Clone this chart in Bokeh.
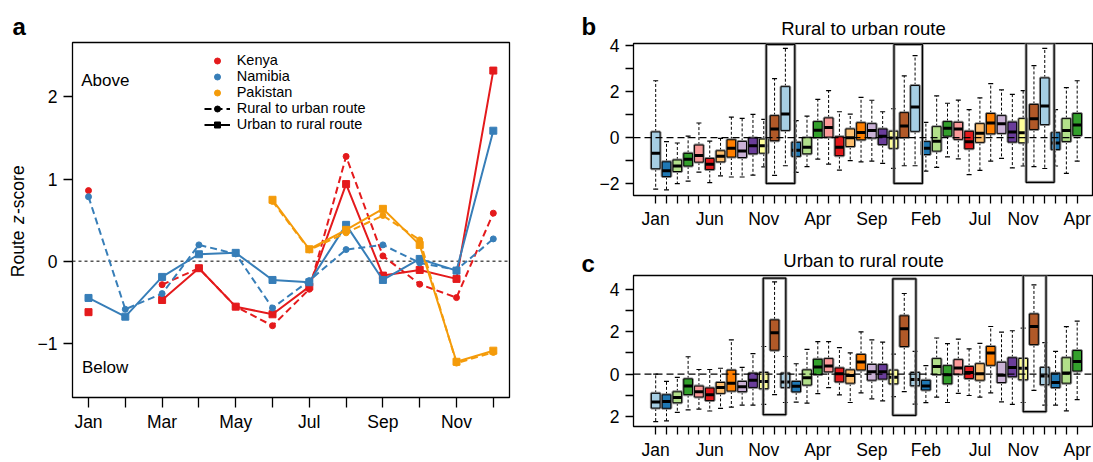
import math
import numpy as np
from bokeh.plotting import figure
from bokeh.layouts import row, column
from bokeh.models import (Range1d, FixedTicker, Label, Legend, LegendItem,
                          ColumnDataSource, Span)
from bokeh.embed import file_html
from bokeh.resources import INLINE

FONT = "Liberation Sans"
nan = float("nan")

# ---------------- Panel a data ----------------
month_num = list(range(1, 13))
month_names = ["Jan", "Feb", "Mar", "Apr", "May", "Jun",
               "Jul", "Aug", "Sep", "Oct", "Nov", "Dec"]
a_labelled = [1, 3, 5, 7, 9, 11]

kenya_rural = [0.86, nan, -0.285, -0.085, -0.553, -0.785, -0.341, 1.276, 0.065, -0.28, -0.443, 0.585]
kenya_urban = [-0.62, nan, -0.472, -0.085, -0.553, -0.646, -0.309, 0.939, -0.175, -0.106, -0.215, 2.321]
namibia_rural = [0.785, -0.585, -0.394, 0.199, 0.089, -0.569, -0.236, 0.142, 0.199, -0.02, -0.106, 0.272]
namibia_urban = [-0.447, -0.675, -0.191, 0.085, 0.102, -0.228, -0.256, 0.443, -0.228, 0.028, -0.114, 1.589]
pakistan_rural = [nan, nan, nan, nan, nan, 0.728, 0.138, 0.346, 0.557, 0.26, -1.24, -1.11]
pakistan_urban = [nan, nan, nan, nan, nan, 0.748, 0.146, 0.382, 0.638, 0.199, -1.224, -1.089]

countries = ["Kenya", "Namibia", "Pakistan"]
country_colors = ["#E41A1C", "#377EB8", "#F49B0A"]

# ---------------- Panels b, c data ----------------
box_months = [month_names[i % 12] for i in range(40)]
box_labelled = [0, 5, 10, 15, 20, 25, 30, 34, 39]
paired = ["#A6CEE3", "#1F78B4", "#B2DF8A", "#33A02C", "#FB9A99", "#E31A1C",
          "#FDBF6F", "#FF7F00", "#CAB2D6", "#6A3D9A", "#FFFF99", "#B15928"]

b_whi = [2.48, -0.17, -0.23, 0.07, 0.64, -0.15, -0.03, 0.9, 0.84, 1.02, 0.8, 2.57, 3.89,
         0.74, 0.94, 1.67, 2.05, 1.13, 1.03, 1.76, 1.63, 1.13, 1.26, 2.69, 3.57, 0.67, 1.82,
         1.5, 1.64, 1.22, 1.73, 2.35, 2.08, 1.89, 2.05, 3.14, 3.89, 1.22, 2.18, 2.48]
b_q3 = [0.25, -1.05, -0.97, -0.68, -0.32, -0.9, -0.57, -0.09, -0.16, -0.01, -0.06, 0.96, 2.22,
        -0.2, 0.0, 0.7, 0.86, 0.04, 0.38, 0.65, 0.61, 0.38, 0.28, 1.09, 2.27, -0.17, 0.48,
        0.7, 0.67, 0.28, 0.61, 1.05, 0.96, 0.68, 0.83, 1.45, 2.6, 0.22, 0.83, 1.05]
b_med = [-0.68, -1.44, -1.23, -0.94, -0.77, -1.15, -0.81, -0.46, -0.58, -0.35, -0.35, 0.38, 1.03,
         -0.55, -0.41, 0.32, 0.45, -0.41, 0.0, 0.23, 0.31, 0.06, -0.01, 0.51, 1.34, -0.46, -0.15,
         0.41, 0.38, -0.17, 0.2, 0.64, 0.61, 0.25, 0.22, 0.83, 1.38, -0.23, 0.31, 0.55]
b_q1 = [-1.35, -1.69, -1.47, -1.23, -1.06, -1.38, -1.05, -0.84, -0.86, -0.7, -0.67, -0.13, 0.32,
        -0.81, -0.7, 0.01, 0.03, -0.78, -0.38, -0.09, -0.01, -0.3, -0.46, 0.01, 0.28, -0.73, -0.58,
        0.07, -0.07, -0.48, -0.2, 0.17, 0.19, -0.19, -0.22, 0.36, 0.57, -0.51, -0.16, 0.1]
b_wlo = [-2.24, -2.27, -2.0, -1.89, -1.5, -1.95, -1.66, -1.71, -1.71, -1.63, -1.27, -1.64, -1.22,
         -1.51, -1.26, -0.93, -1.15, -1.41, -1.0, -1.05, -1.02, -1.12, -1.33, -1.22, -1.22, -1.45, -1.29,
         -0.83, -0.92, -1.61, -1.42, -1.02, -0.9, -1.31, -1.23, -1.26, -1.34, -1.23, -1.55, -1.02]
b_rect_left = [10.23, 22.05, 34.28]
b_rect_right = [12.87, 24.68, 36.87]
b_rect_bottom = [-1.99, -1.99, -1.94]
b_rect_top = [4.06, 4.06, 4.11]

c_whi = [0.0, -0.34, -0.15, 0.82, 0.22, 0.22, 0.28, 1.61, 0.32, 0.97, 1.3, 4.34, 0.83,
         0.49, 1.17, 1.53, 1.53, 1.25, 1.0, 1.99, 1.61, 1.51, 0.94, 3.79, 1.07, 0.4, 1.7,
         1.44, 1.65, 1.19, 1.45, 2.24, 1.98, 2.04, 2.16, 4.2, 1.48, 1.07, 2.23, 2.49]
c_q3 = [-0.9, -0.97, -0.83, -0.22, -0.56, -0.65, -0.39, 0.19, -0.34, 0.05, 0.08, 2.55, 0.05,
        -0.34, 0.2, 0.7, 0.73, 0.29, 0.2, 0.93, 0.46, 0.45, 0.19, 2.74, 0.08, -0.29, 0.73,
        0.4, 0.68, 0.36, 0.49, 1.3, 0.56, 0.77, 0.74, 2.83, 0.32, 0.05, 0.77, 1.11]
c_med = [-1.31, -1.28, -1.1, -0.56, -0.82, -0.96, -0.63, -0.43, -0.59, -0.29, -0.34, 1.95, -0.37,
         -0.57, -0.17, 0.34, 0.39, 0.02, -0.06, 0.57, 0.11, 0.11, -0.14, 2.13, -0.25, -0.56, 0.36,
         -0.03, 0.29, 0.08, 0.02, 0.99, -0.05, 0.32, 0.28, 2.24, -0.09, -0.39, 0.06, 0.6]
c_q1 = [-1.59, -1.6, -1.34, -0.96, -1.07, -1.24, -0.9, -0.79, -0.82, -0.62, -0.68, 1.13, -0.62,
        -0.83, -0.51, -0.02, 0.11, -0.36, -0.42, 0.2, -0.28, -0.23, -0.45, 1.3, -0.54, -0.74, -0.02,
        -0.45, 0.0, -0.2, -0.28, 0.42, -0.39, -0.12, -0.26, 1.39, -0.49, -0.63, -0.42, 0.15]
c_wlo = [-2.23, -2.19, -1.79, -1.68, -1.64, -1.73, -1.61, -1.55, -1.45, -1.45, -1.42, -0.96, -1.33,
         -1.31, -1.36, -0.91, -0.63, -0.97, -1.33, -0.88, -1.16, -1.25, -1.05, -0.82, -1.41, -1.34, -1.08,
         -1.33, -0.9, -1.0, -1.08, -0.88, -1.3, -1.42, -1.33, -0.76, -1.45, -1.45, -1.72, -1.19]
c_rect_left = [9.95, 21.94, 34.01]
c_rect_right = [12.04, 24.08, 36.12]
c_rect_bottom = [-1.90, -1.93, -1.76]
c_rect_top = [4.51, 4.48, 4.64]

PAGE_H = 462
A_TOP, A_BOTTOM = 42, 65   # borders of panel a (frame spans 42..397 px from top)


def style_common(p):
    p.xgrid.visible = False
    p.ygrid.visible = False
    p.outline_line_color = "black"
    p.outline_line_width = 1.3
    p.background_fill_color = "white"
    p.border_fill_color = "white"
    for ax in (p.xaxis[0], p.yaxis[0]):
        ax.axis_line_color = None
        ax.major_tick_line_color = "black"
        ax.major_tick_line_width = 1.3
        ax.major_tick_in = 0
        ax.minor_tick_line_color = None
        ax.major_label_text_font = FONT
        ax.major_label_text_font_size = "17.5px"
        ax.major_label_text_color = "black"


def text_strip(width, letter, letter_offset):
    # narrow figure without axes carrying free texts; its frame matches panel a's frame rows,
    # y units = pixels counted from the bottom of the page
    s = figure(width=width, height=PAGE_H, x_range=Range1d(0, width),
               y_range=Range1d(A_BOTTOM, PAGE_H - A_TOP),
               x_axis_type=None, y_axis_type=None, output_backend="svg", toolbar_location=None,
               min_border_left=0, min_border_right=0, min_border_top=A_TOP, min_border_bottom=A_BOTTOM)
    s.outline_line_color = None
    s.xgrid.visible = False
    s.ygrid.visible = False
    s.background_fill_color = "white"
    s.border_fill_color = "white"
    s.title.text = letter
    s.title.text_font = FONT
    s.title.text_font_size = "24px"
    s.title.text_font_style = "bold"
    s.title.text_color = "black"
    s.title.align = "left"
    s.title.offset = letter_offset
    s.title.standoff = 5
    return s


def put_text(p, x, y, text, size, style="normal", angle=0.0, baseline="alphabetic"):
    p.add_layout(Label(x=x, y=y, text=text, angle=angle, text_font=FONT, text_font_size=size,
                       text_color="black", text_font_style=style, text_align="left",
                       text_baseline=baseline))


# ---------------- left text strip: panel letter "a" + y-axis title ----------------
strip_a = text_strip(30, "a", 12)
for txt, yy, style in [("Route", 185.3, "normal"), ("z", 238.5, "italic"), ("-score", 248.5, "normal")]:
    put_text(strip_a, 17.5, yy, txt, "17.5px", style, math.pi / 2, "middle")

# ---------------- Panel a ----------------
pa = figure(width=550, height=PAGE_H, x_range=Range1d(0.565, 12.44), y_range=Range1d(-1.659, 2.663),
            output_backend="svg", toolbar_location=None,
            min_border_left=42, min_border_right=71, min_border_top=A_TOP, min_border_bottom=A_BOTTOM)
style_common(pa)
pa.xaxis.ticker = FixedTicker(ticks=month_num, minor_ticks=[])
pa.xaxis.major_label_overrides = {m: (month_names[m - 1] if m in a_labelled else "") for m in month_num}
pa.xaxis.major_tick_out = 10
pa.xaxis.major_label_standoff = 4
pa.yaxis.ticker = FixedTicker(ticks=[-1, 0, 1, 2], minor_ticks=[])
pa.yaxis.major_label_overrides = {-1: "\u22121", 0: "0", 1: "1", 2: "2"}
pa.yaxis.major_tick_out = 9
pa.yaxis.major_label_standoff = 6

pa.add_layout(Span(location=0, dimension="width", line_color="#555555", line_width=1.5,
                   line_dash="3 3", level="underlay"))

series = [(kenya_rural, kenya_urban), (namibia_rural, namibia_urban), (pakistan_rural, pakistan_urban)]
legend_pts = []
for (rural, urban), col in zip(series, country_colors):
    pa.line(month_num, rural, line_color=col, line_width=2, line_dash="7 4")
    rp = pa.scatter(month_num, rural, marker="circle", size=6, fill_color=col, line_color=col)
    pa.line(month_num, urban, line_color=col, line_width=2)
    pa.scatter(month_num, urban, marker="square", size=7, fill_color=col, line_color=col)
    legend_pts.append(rp)

# legend-only renderers (no visible data)
leg_dl = pa.line(x=[nan], y=[nan], line_color="black", line_width=2, line_dash="7 4")
leg_dc = pa.scatter(x=[nan], y=[nan], marker="circle", size=6, color="black")
leg_sl = pa.line(x=[nan], y=[nan], line_color="black", line_width=2)
leg_ss = pa.scatter(x=[nan], y=[nan], marker="square", size=7, color="black")

items = [LegendItem(label=c, renderers=[r]) for c, r in zip(countries, legend_pts)]
items.append(LegendItem(label="Rural to urban route", renderers=[leg_dl, leg_dc]))
items.append(LegendItem(label="Urban to rural route", renderers=[leg_sl, leg_ss]))
legend = Legend(items=items, location=(131.7, 264.7), glyph_width=26, glyph_height=15,
                label_height=15, spacing=0, padding=0, margin=0, label_standoff=7,
                border_line_alpha=0, background_fill_alpha=0, label_text_color="black",
                label_text_font=FONT, label_text_font_size="14.5px", label_text_baseline="middle")
pa.add_layout(legend)

pa.add_layout(Label(x=0.80, y=2.20, text="Above", text_font=FONT, text_font_size="17px",
                    text_color="black", text_align="left", text_baseline="middle"))
pa.add_layout(Label(x=0.82, y=-1.29, text="Below", text_font=FONT, text_font_size="17px",
                    text_color="black", text_align="left", text_baseline="middle"))

# ---------------- strip with letters "b" and "c" ----------------
strip_bc = text_strip(16, "b", 1)
put_text(strip_bc, 1, PAGE_H - 262.7, "c", "24px", "bold")


# ---------------- Panels b, c ----------------
def box_panel(title, whi, q3, med, q1, wlo, rl, rr, rb, rt, y_lo, y_hi, height,
              mb_top, mb_bottom, y_over):
    idx = list(range(len(med)))
    w = 0.8
    src = ColumnDataSource(dict(x=idx, hi=whi, q3=q3, med=med, q1=q1, lo=wlo,
                                xl=[i - w / 2 for i in idx], xr=[i + w / 2 for i in idx],
                                color=[paired[i % 12] for i in idx]))
    p = figure(width=497, height=height, x_range=Range1d(-2.054, 40.51), y_range=Range1d(y_lo, y_hi),
               output_backend="svg", toolbar_location=None,
               min_border_left=35, min_border_right=0, min_border_top=mb_top, min_border_bottom=mb_bottom)
    style_common(p)
    p.title.text = title
    p.title.text_font = FONT
    p.title.text_font_size = "18.5px"
    p.title.text_font_style = "normal"
    p.title.text_color = "black"
    p.title.align = "center"
    p.xaxis.ticker = FixedTicker(ticks=idx, minor_ticks=[])
    p.xaxis.major_label_overrides = {i: (box_months[i] if i in box_labelled else "") for i in idx}
    p.xaxis.major_tick_out = 8
    p.xaxis.major_label_standoff = 5
    p.yaxis.ticker = FixedTicker(ticks=[-2, -1, 0, 1, 2, 3, 4], minor_ticks=[])
    p.yaxis.major_label_overrides = y_over
    p.yaxis.major_tick_out = 8
    p.yaxis.major_label_standoff = 6

    p.segment(x0="x", y0="q3", x1="x", y1="hi", source=src, line_color="black", line_width=1, line_dash="3 2")
    p.segment(x0="x", y0="q1", x1="x", y1="lo", source=src, line_color="black", line_width=1, line_dash="3 2")
    p.scatter(x="x", y="hi", source=src, marker="dash", size=5, line_color="black", line_width=1.2)
    p.scatter(x="x", y="lo", source=src, marker="dash", size=5, line_color="black", line_width=1.2)
    p.vbar(x="x", width=w, bottom="q1", top="q3", source=src, fill_alpha=0, line_color="#8c8c8c", line_width=3)
    p.vbar(x="x", width=w, bottom="q1", top="q3", source=src, fill_color="color", line_color="black", line_width=1)
    p.segment(x0="xl", y0="med", x1="xr", y1="med", source=src, line_color="black", line_width=3)

    rsrc = ColumnDataSource(dict(l=rl, r=rr, b=rb, t=rt))
    p.quad(left="l", right="r", bottom="b", top="t", source=rsrc, fill_alpha=0, line_color="#9a9a9a", line_width=3)
    p.quad(left="l", right="r", bottom="b", top="t", source=rsrc, fill_alpha=0, line_color="black", line_width=1.2)

    p.add_layout(Span(location=0, dimension="width", line_color="black", line_width=1.3, line_dash="7 4"))
    return p


pb = box_panel("Rural to urban route", b_whi, b_q3, b_med, b_q1, b_wlo,
               b_rect_left, b_rect_right, b_rect_bottom, b_rect_top,
               -2.514, 4.10, 233, 43, 38,
               {-2: "\u22122", -1: "", 0: "0", 1: "", 2: "2", 3: "", 4: "4"})
pc = box_panel("Urban to rural route", c_whi, c_q3, c_med, c_q1, c_wlo,
               c_rect_left, c_rect_right, c_rect_bottom, c_rect_top,
               -2.457, 4.636, 229, 42, 34,
               {-2: "2", -1: "", 0: "0", 1: "", 2: "2", 3: "", 4: "4"})

layout = row(strip_a, pa, strip_bc, column(pb, pc, spacing=0), spacing=0)
open("out.html", "w").write(file_html(layout, INLINE))
